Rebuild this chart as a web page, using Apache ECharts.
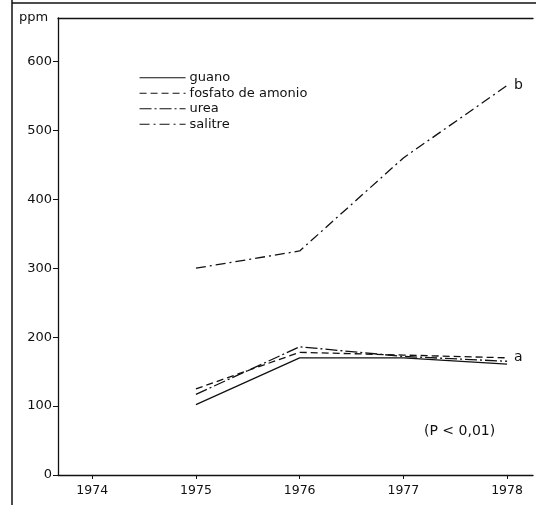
<!DOCTYPE html>
<html>
<head>
<meta charset="utf-8">
<script src="https://cdn.jsdelivr.net/npm/echarts@6/dist/echarts.min.js"></script>
<style>
  html, body { margin: 0; padding: 0; background: #fff; }
  #chart { width: 536px; height: 505px; }
</style>
</head>
<body>
<div id="chart"></div>
<script>
// years on the x axis
var years = [1975, 1976, 1977, 1978];
var yearTicks = [1974, 1975, 1976, 1977, 1978];
var ppmTicks = [0, 100, 200, 300, 400, 500, 600];

// ppm per fertilizer
var guano = [102, 170, 170, 161];
var fosfato = [125, 178, 174, 170];
var urea = [117, 186, 172, 165];
var salitre = [300, 325, 460, 565];

var ink = '#111';
var font = 'DejaVu Sans';

function pairs(vals) {
  return vals.map(function (v, i) { return [years[i], v]; });
}

function line(name, vals, dash, endText) {
  var s = {
    name: name,
    type: 'line',
    data: pairs(vals),
    symbol: 'none',
    silent: true,
    lineStyle: { color: ink, width: 1.3, type: dash },
    itemStyle: { color: ink }
  };
  if (endText) {
    s.endLabel = {
      show: true,
      formatter: endText,
      color: ink,
      fontFamily: font,
      fontSize: 14,
      distance: 7
    };
  }
  return s;
}

var chart = echarts.init(document.getElementById('chart'));
chart.setOption({
  animation: false,
  backgroundColor: '#fff',
  textStyle: { fontFamily: font },
  grid: { left: 58, right: 3, top: 18, bottom: 30 },
  legend: {
    orient: 'vertical',
    left: 134,
    top: 65,
    itemWidth: 46,
    itemHeight: 8,
    itemGap: 0,
    itemStyle: { color: 'transparent', borderWidth: 0, opacity: 0 },
    lineStyle: { width: 1.1 },
    textStyle: { color: ink, fontFamily: font, fontSize: 13, lineHeight: 15.5, padding: [0, 0, 0, -1] },
    data: ['guano', 'fosfato de amonio', 'urea', 'salitre']
  },
  xAxis: [{
    type: 'value',
    min: 1973.67,
    max: 1978.25,
    axisLine: { lineStyle: { color: ink, width: 1.3 } },
    axisTick: { customValues: yearTicks, length: 4, lineStyle: { color: ink } },
    axisLabel: {
      customValues: yearTicks, color: ink, fontSize: 12.5, margin: 9,
      formatter: function (v) { return String(v); }
    },
    splitLine: { show: false }
  }, {
    type: 'value',
    position: 'top',
    min: 1973.67,
    max: 1978.25,
    axisLine: { show: true, lineStyle: { color: ink, width: 1.3 } },
    axisTick: { show: false },
    axisLabel: { show: false },
    splitLine: { show: false }
  }],
  yAxis: {
    type: 'value',
    min: 0,
    max: 663,
    axisLine: { show: true, lineStyle: { color: ink, width: 1.3 } },
    axisTick: { show: true, customValues: ppmTicks, length: 5, lineStyle: { color: ink } },
    axisLabel: { customValues: ppmTicks, color: ink, fontSize: 13, margin: 6 },
    splitLine: { show: false }
  },
  graphic: [
    { type: 'line', shape: { x1: 12, y1: 0, x2: 12, y2: 505 }, style: { stroke: ink, lineWidth: 1.5 } },
    { type: 'line', shape: { x1: 12, y1: 3, x2: 536, y2: 3 }, style: { stroke: ink, lineWidth: 1.5 } },
    { type: 'text', left: 19, top: 11, style: { text: 'ppm', fill: ink, font: '13px "DejaVu Sans"' } },
    { type: 'text', left: 424, top: 424, style: { text: '(P < 0,01)', fill: ink, font: '14px "DejaVu Sans"' } }
  ],
  series: [
    line('guano', guano, 'solid'),
    line('fosfato de amonio', fosfato, [7, 4], 'a'),
    line('urea', urea, [12, 3, 2, 3]),
    line('salitre', salitre, [10, 4, 2, 4], 'b')
  ]
});
</script>
</body>
</html>
